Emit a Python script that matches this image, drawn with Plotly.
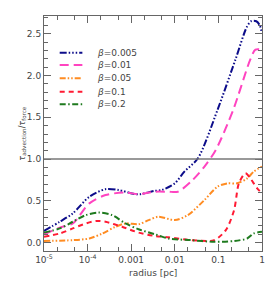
import plotly.graph_objects as go

# log10(radius [pc]) and tau ratio for each beta
lr_b005 = [-5, -4.64, -4.34, -3.96, -3.59, -3.29, -2.91, -2.79, -2.46, -2.30, -2.0, -1.78, -1.47, -1.02, -0.61, -0.35, -0.25, -0.13, -0.05, 0]
y_b005 = [0.14, 0.25, 0.35, 0.55, 0.64, 0.63, 0.58, 0.58, 0.62, 0.63, 0.71, 0.85, 1.01, 1.59, 2.19, 2.58, 2.65, 2.65, 2.60, 2.50]

lr_b01 = [-5, -4.64, -4.34, -3.96, -3.59, -3.13, -2.83, -2.46, -2.15, -1.93, -1.63, -1.32, -1.06, -0.66, -0.27, -0.15, 0]
y_b01 = [0.10, 0.18, 0.23, 0.47, 0.57, 0.60, 0.58, 0.61, 0.61, 0.61, 0.73, 0.91, 1.11, 1.59, 2.19, 2.31, 2.31]

lr_b05 = [-5, -4.34, -3.96, -3.66, -3.36, -3.13, -2.83, -2.6, -2.38, -2.0, -1.70, -1.32, -1.02, -0.79, -0.57, -0.34, -0.19, 0]
y_b05 = [0.02, 0.03, 0.05, 0.11, 0.19, 0.23, 0.22, 0.27, 0.31, 0.27, 0.33, 0.51, 0.67, 0.71, 0.71, 0.77, 0.85, 0.91]

lr_b1 = [-5, -4.64, -4.34, -4.04, -3.81, -3.59, -3.21, -2.83, -2.46, -2.15, -1.63, -1.10, -0.83, -0.64, -0.53, -0.38, -0.27, -0.11, 0]
y_b1 = [0.07, 0.11, 0.17, 0.23, 0.26, 0.25, 0.19, 0.12, 0.08, 0.065, 0.03, 0.03, 0.15, 0.39, 0.71, 0.83, 0.77, 0.65, 0.59]

lr_b2 = [-5, -4.64, -4.34, -4.04, -3.74, -3.44, -3.13, -2.83, -2.45, -2.15, -1.63, -1.10, -0.64, -0.34, -0.19, 0]
y_b2 = [0.12, 0.17, 0.25, 0.33, 0.36, 0.33, 0.23, 0.16, 0.10, 0.05, 0.03, 0.01, 0.02, 0.05, 0.11, 0.13]

labels = ["<i>β</i>=0.005", "<i>β</i>=0.01", "<i>β</i>=0.05", "<i>β</i>=0.1", "<i>β</i>=0.2"]
x_tickvals = [1e-5, 1e-4, 1e-3, 1e-2, 1e-1, 1]
x_ticktext = ["10<sup>-5</sup>", "10<sup>-4</sup>", "0.001", "0.01", "0.1", "1"]
y_tickvals = [0.0, 0.5, 1.0, 1.5, 2.0, 2.5]
y_ticktext = ["0.0", "0.5", "1.0", "1.5", "2.0", "2.5"]
x_title = "radius [pc]"
y_title = "<i>τ</i><sub>advection</sub>/<i>τ</i><sub>force</sub>"

colors = ["#0c0c8a", "#ff44c0", "#ff8c22", "#ff1a33", "#1e7a1e"]
dashes = ["7px,2px,1.5px,2px,1.5px,2px,1.5px,2px", "9px,5px",
          "6px,2px,1.5px,2px,1.5px,2px", "5px,4px", "6px,2.5px,1.5px,2.5px"]
series = [(lr_b005, y_b005), (lr_b01, y_b01), (lr_b05, y_b05), (lr_b1, y_b1), (lr_b2, y_b2)]

fig = go.Figure()
for (lr, yv), col, dash, name in zip(series, colors, dashes, labels):
    fig.add_trace(go.Scatter(
        x=[10 ** v for v in lr], y=yv, mode="lines", name=name, showlegend=False,
        line=dict(color=col, width=2, dash=dash, shape="spline", smoothing=0.8),
    ))

fig.add_hline(y=1.0, line=dict(color="#777777", width=1.5))

# manual legend (compact rows like the reference)
leg_rows = [0.844, 0.791, 0.735, 0.678, 0.624]
for ly, col, dash, name in zip(leg_rows, colors, dashes, labels):
    fig.add_shape(type="line", xref="paper", yref="paper",
                  x0=0.072, x1=0.176, y0=ly, y1=ly,
                  line=dict(color=col, width=2, dash=dash))
    fig.add_annotation(xref="paper", yref="paper", x=0.235, y=ly,
                       xanchor="left", yanchor="middle", showarrow=False,
                       text=name, font=dict(family="DejaVu Sans", size=9, color="#444444"))

# axis titles
fig.add_annotation(xref="paper", yref="paper", x=0.5, y=-0.094,
                   xanchor="center", yanchor="middle", showarrow=False,
                   text=x_title, font=dict(family="DejaVu Sans", size=9, color="#444444"))
fig.add_annotation(xref="paper", yref="paper", x=-0.1, y=0.5,
                   xanchor="center", yanchor="middle", showarrow=False, textangle=-90,
                   text=y_title, font=dict(family="DejaVu Sans", size=8, color="#444444"))

font = dict(family="DejaVu Sans", size=9, color="#444444")
fig.update_layout(
    width=276, height=291,
    margin=dict(l=44, r=11, t=16, b=40),
    paper_bgcolor="white", plot_bgcolor="white",
    font=font,
)
fig.update_xaxes(
    type="log", range=[-5, 0],
    tickvals=x_tickvals, ticktext=x_ticktext,
    ticks="inside", ticklen=7, tickcolor="#666666",
    showline=True, linecolor="#666666", linewidth=1, mirror="ticks",
    showgrid=False, zeroline=False,
    minor=dict(ticks="inside", ticklen=4, tickcolor="#666666", showgrid=False),
    tickfont=dict(size=9),
)
fig.update_yaxes(
    range=[-0.1, 2.713],
    tickvals=y_tickvals, ticktext=y_ticktext,
    ticks="inside", ticklen=7, tickcolor="#666666",
    showline=True, linecolor="#666666", linewidth=1, mirror="ticks",
    showgrid=False, zeroline=False,
    minor=dict(ticks="inside", ticklen=4, tickcolor="#666666", dtick=0.1, showgrid=False),
    tickfont=dict(size=9),
)

fig.write_html("out.html", config={"displayModeBar": False},
               post_script="document.body.style.margin='0';document.body.style.padding='0';document.body.style.overflow='hidden';")
